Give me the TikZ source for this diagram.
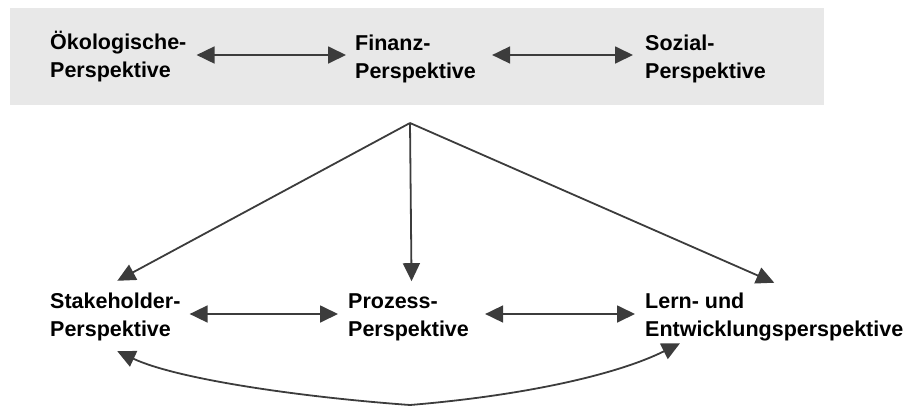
\documentclass[tikz,border=0pt]{standalone}
\usepackage{fontspec}
\setmainfont{Liberation Sans}
\usetikzlibrary{arrows.meta,calc}
\definecolor{boxgray}{HTML}{E8E8E8}
\definecolor{arrowgray}{HTML}{3C3C3C}
\begin{document}
\begin{tikzpicture}[x=1pt,y=-1pt,
  persp/.style={anchor=west,inner sep=0pt,align=left,font=\bfseries\fontsize{21.5}{28}\selectfont,text=black},
  conn/.style={draw=arrowgray,line width=1.8pt,-{Triangle[length=18pt,width=17pt]}},
  dbl/.style={draw=arrowgray,line width=1.8pt,{Triangle[length=18pt,width=17pt]}-{Triangle[length=18pt,width=17pt]}}]
\useasboundingbox (0,0) rectangle (914,405);
\fill[boxgray] (10,8) rectangle (824,105);
\node[persp] (oek) at (50,57) {Ökologische-\\Perspektive};
\node[persp] (fin) at (355,58.5) {Finanz-\\Perspektive};
\node[persp] (soz) at (645,58.5) {Sozial-\\Perspektive};
\node[persp] (stake) at (50,317) {Stakeholder-\\Perspektive};
\node[persp] (proz) at (348,317) {Prozess-\\Perspektive};
\node[persp] (lern) at (645,317) {Lern- und\\Entwicklungsperspektive};
\coordinate (apex) at (410,123);
\coordinate (bot) at (410,405);
\draw[dbl] ($(oek.east)+(10,-2)$) -- ($(fin.west)+(-9,-3.5)$);
\draw[dbl] ($(fin.east)+(16,-3.5)$) -- ($(soz.west)+(-12,-3.5)$);
\draw[dbl] ($(stake.east)+(9,-3)$) -- ($(proz.west)+(-10,-3)$);
\draw[dbl] ($(proz.east)+(16,-3)$) -- ($(lern.west)+(-10,-3)$);
\draw[conn] (apex) -- ($(stake.north)+(2,-12)$);
\draw[conn] (apex) -- ($(proz.north)+(3,-12)$);
\draw[conn] (apex) -- ($(lern.north)+(0,-10)$);
\draw[conn] (bot) .. controls +(-110,-8) and +(60,28) .. ($(stake.south)+(2,10)$);
\draw[conn] (bot) .. controls +(120,-10) and +(-60,30) .. ($(lern.south west)+(35,2)$);
\end{tikzpicture}
\end{document}
